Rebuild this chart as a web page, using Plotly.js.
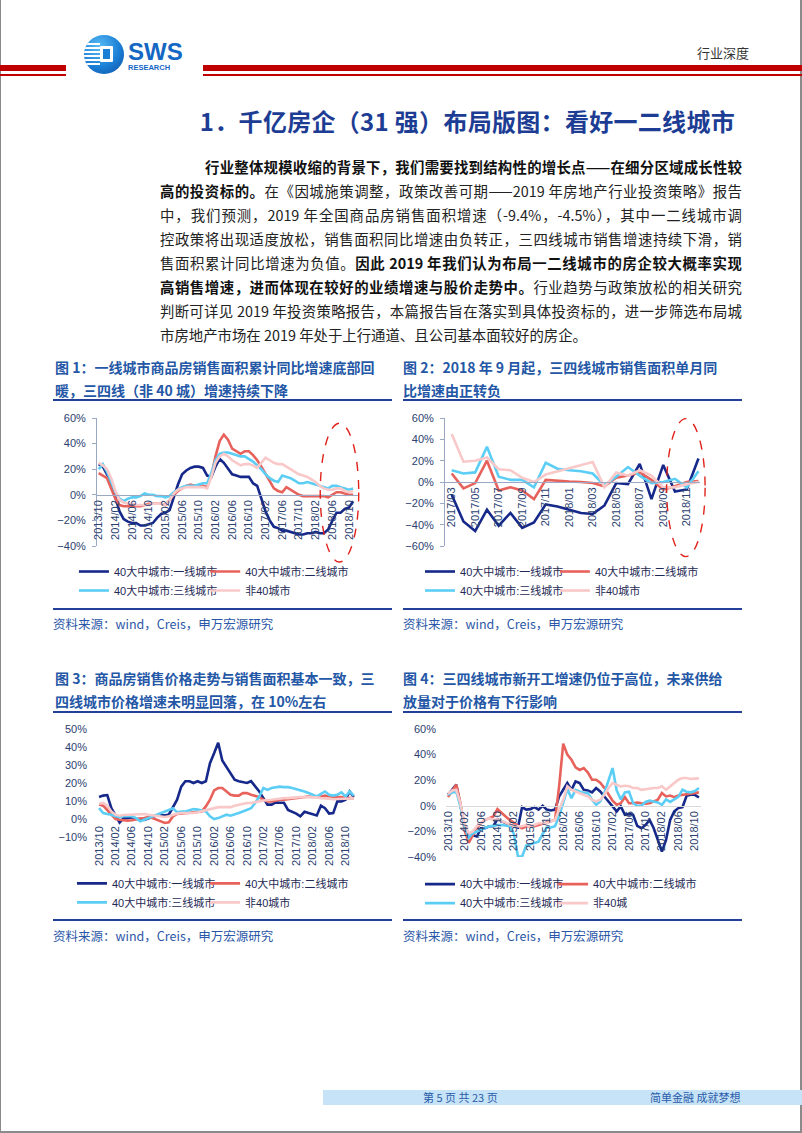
<!DOCTYPE html>
<html>
<head>
<meta charset="utf-8">
<script src="https://cdn.plot.ly/plotly-3.0.1.min.js"></script>
<style>
  html,body{margin:0;padding:0;background:#fff;}
  #page{position:relative;width:802px;height:1133px;overflow:hidden;background:#fff;font-family:"Noto Sans CJK SC","Noto Sans",sans-serif;}
  .abs{position:absolute;white-space:nowrap;}
  .para{position:absolute;left:160px;width:582px;font-size:14.4px;line-height:24px;height:24px;color:#222;text-align:justify;text-align-last:justify;white-space:nowrap;}
  .para b{color:#111;font-weight:700;}
  .ctitle{position:absolute;font-size:14px;font-weight:700;color:#2457A6;line-height:22px;white-space:nowrap;}
  .uline{position:absolute;height:2px;background:#23409A;}
  .src{position:absolute;font-size:12.5px;color:#2B57A8;white-space:nowrap;line-height:16px;}
  .chart{position:absolute;}
</style>
</head>
<body>
<div id="page">
  <!-- page border -->
  <div class="abs" style="left:0;top:0;width:1px;height:1133px;background:#8a8a8a;"></div>
  <div class="abs" style="left:800px;top:0;width:2px;height:1133px;background:#8a8a8a;"></div>
  <div class="abs" style="left:0;top:1131px;width:802px;height:2px;background:#8a8a8a;"></div>

  <!-- header red rules -->
  <div class="abs" style="left:0;top:65px;width:66px;height:6px;background:#C00000;"></div>
  <div class="abs" style="left:0;top:74px;width:66px;height:1.5px;background:#C00000;"></div>
  <div class="abs" style="left:203px;top:65px;width:599px;height:6px;background:#C00000;"></div>
  <div class="abs" style="left:203px;top:74px;width:599px;height:1.5px;background:#C00000;"></div>

  <!-- logo -->
  <div class="abs" style="left:84px;top:35px;width:40px;height:39px;border-radius:50%;overflow:hidden;background:radial-gradient(circle at 38% 30%,#5BBDF5 0%,#1B7FD6 55%,#0C4E9E 100%);">
    <div class="abs" style="left:0;top:8px;width:16px;height:24px;background:repeating-linear-gradient(to bottom,#ffffff 0px,#ffffff 2px,rgba(255,255,255,0) 2px,rgba(255,255,255,0) 4px);"></div>
    <div class="abs" style="left:16px;top:11px;width:13px;height:16px;background:#fff;border-radius:1px;"></div>
    <div class="abs" style="left:19px;top:14px;width:7px;height:10px;background:#1B7FD6;"></div>
  </div>
  <div class="abs" style="left:128px;top:42px;font-family:'Liberation Sans',Arial,sans-serif;font-weight:700;font-size:24px;line-height:20px;color:#1467C2;">SWS</div>
  <div class="abs" style="left:128px;top:64px;font-family:'Liberation Sans',Arial,sans-serif;font-weight:700;font-size:7.5px;line-height:8px;color:#1467C2;">RESEARCH</div>

  <div class="abs" style="left:697px;top:44px;font-size:13px;line-height:18px;color:#333;">行业深度</div>

  <!-- main title -->
  <div class="abs" style="right:67px;top:105px;font-size:24px;letter-spacing:0.3px;line-height:32px;font-weight:700;color:#1D3D94;">1．千亿房企（31 强）布局版图：看好一二线城市</div>

  <!-- paragraph -->
  <div class="para" style="top:155px;left:205px;width:537px;"><b>行业整体规模收缩的背景下，我们需要找到结构性的增长点——在细分区域成长性较</b></div>
  <div class="para" style="top:179px;"><b>高的投资标的。</b>在《因城施策调整，政策改善可期——2019 年房地产行业投资策略》报告</div>
  <div class="para" style="top:203px;">中，我们预测，2019 年全国商品房销售面积增速（-9.4%，-4.5%），其中一二线城市调</div>
  <div class="para" style="top:227px;">控政策将出现适度放松，销售面积同比增速由负转正，三四线城市销售增速持续下滑，销</div>
  <div class="para" style="top:251px;">售面积累计同比增速为负值。<b>因此 2019 年我们认为布局一二线城市的房企较大概率实现</b></div>
  <div class="para" style="top:275px;"><b>高销售增速，进而体现在较好的业绩增速与股价走势中。</b>行业趋势与政策放松的相关研究</div>
  <div class="para" style="top:299px;">判断可详见 2019 年投资策略报告，本篇报告旨在落实到具体投资标的，进一步筛选布局城</div>
  <div class="para" style="top:323px;text-align:left;text-align-last:left;">市房地产市场在 2019 年处于上行通道、且公司基本面较好的房企。</div>

  <!-- chart titles row 1 -->
  <div class="ctitle" style="left:55px;top:356px;">图 1：一线城市商品房销售面积累计同比增速底部回</div>
  <div class="ctitle" style="left:55px;top:379px;">暖，三四线（非 40 城）增速持续下降</div>
  <div class="uline" style="left:53px;top:399px;width:339px;"></div>
  <div class="ctitle" style="left:403px;top:356px;">图 2：2018 年 9 月起，三四线城市销售面积单月同</div>
  <div class="ctitle" style="left:403px;top:379px;">比增速由正转负</div>
  <div class="uline" style="left:403px;top:399px;width:339px;"></div>

  <div id="c1" class="chart" style="left:40px;top:405px;"></div>
  <div id="c2" class="chart" style="left:390px;top:405px;"></div>

  <div class="uline" style="left:53px;top:608px;width:339px;"></div>
  <div class="uline" style="left:403px;top:608px;width:339px;"></div>
  <div class="src" style="left:53px;top:616px;">资料来源：wind，Creis，申万宏源研究</div>
  <div class="src" style="left:403px;top:616px;">资料来源：wind，Creis，申万宏源研究</div>

  <!-- chart titles row 2 -->
  <div class="ctitle" style="left:55px;top:667px;">图 3：商品房销售价格走势与销售面积基本一致，三</div>
  <div class="ctitle" style="left:55px;top:690px;">四线城市价格增速未明显回落，在 10%左右</div>
  <div class="uline" style="left:53px;top:711px;width:339px;"></div>
  <div class="ctitle" style="left:403px;top:667px;">图 4：三四线城市新开工增速仍位于高位，未来供给</div>
  <div class="ctitle" style="left:403px;top:690px;">放量对于价格有下行影响</div>
  <div class="uline" style="left:403px;top:711px;width:339px;"></div>

  <div id="c3" class="chart" style="left:40px;top:715px;"></div>
  <div id="c4" class="chart" style="left:390px;top:715px;"></div>

  <div class="uline" style="left:53px;top:919px;width:339px;"></div>
  <div class="uline" style="left:403px;top:919px;width:339px;"></div>
  <div class="src" style="left:53px;top:928px;">资料来源：wind，Creis，申万宏源研究</div>
  <div class="src" style="left:403px;top:928px;">资料来源：wind，Creis，申万宏源研究</div>

  <!-- footer -->
  <div class="abs" style="left:323px;top:1090px;width:479px;height:15px;background:#C6E3F7;"></div>
  <div class="abs" style="left:423px;top:1090px;font-size:11px;line-height:15px;color:#2A5BAA;">第 5 页 共 23 页</div>
  <div class="abs" style="left:650px;top:1090px;font-size:11px;line-height:15px;color:#2A5BAA;">简单金融 成就梦想</div>
</div>

<script>
// ---------- categories ----------
var months = ['2013/10','2013/11','2013/12',
 '2014/01','2014/02','2014/03','2014/04','2014/05','2014/06','2014/07','2014/08','2014/09','2014/10','2014/11','2014/12',
 '2015/01','2015/02','2015/03','2015/04','2015/05','2015/06','2015/07','2015/08','2015/09','2015/10','2015/11','2015/12',
 '2016/01','2016/02','2016/03','2016/04','2016/05','2016/06','2016/07','2016/08','2016/09','2016/10','2016/11','2016/12',
 '2017/01','2017/02','2017/03','2017/04','2017/05','2017/06','2017/07','2017/08','2017/09','2017/10','2017/11','2017/12',
 '2018/01','2018/02','2018/03','2018/04','2018/05','2018/06','2018/07','2018/08','2018/09','2018/10','2018/11','2018/12'];
var months2 = ['2017/03','2017/04','2017/05','2017/06','2017/07','2017/08','2017/09','2017/10','2017/11','2017/12',
 '2018/01','2018/02','2018/03','2018/04','2018/05','2018/06','2018/07','2018/08','2018/09','2018/10','2018/11','2018/12'];

var seriesNames = ['40大中城市:一线城市','40大中城市:二线城市','40大中城市:三线城市','非40城市'];
var seriesNames4 = ['40大中城市:一线城市','40大中城市:二线城市','40大中城市:三线城市','非40城'];

// ---------- Figure 1: cumulative YoY sales area (%) ----------
var c1_tier1 = [24,22,16,9,-2,-13,-19,-21,-22,-22, -24,-24,-23,-22,-18,-15,-14,-12,-2,8, 16,19,21,22,22,21,15,14,22,28, 25,20,16,15,14,14,14,9,7,-3, -13,-20,-25,-26,-28,-28,-29,-30,-31,-31, -30,-30,-29,-30,-30,-27,-20,-14,-14,-11, -10,-5];
var c1_tier2 = [17,15,13,5,-3,-8,-9,-9,-9,-9, -9,-8,-7,-7,-7,-7,-8,-4,0,3, 5,7,8,7,7,7,6,15,30,42, 47,43,36,34,32,34,34,31,27,22, 16,10,5,3,2,6,4,2,0,-1, -1,-1,-1,-1,-1,-2,0,2,2,1, 0,0];
var c1_tier3 = [20,24,18,10,2,-3,-5,-3,-2,-2, -1,1,0,0,-1,-1,-2,-1,2,4, 6,7,7,7,8,9,9,17,27,32, 33,33,32,31,30,30,28,26,23,20, 16,13,11,10,15,14,13,11,9,9, 10,9,8,7,6,5,7,7,6,5, 4,5];
var c1_non40 = [25,23,20,13,3,-4,-6,-7,-7,-8, -8,-8,-8,-7,-7,-7,-8,-4,1,4, 5,6,6,6,6,6,5,14,25,30, 32,30,27,25,23,24,24,23,21,25, 29,27,25,24,24,22,20,18,16,15, 14,12,10,7,5,4,4,5,5,3, 2,3];

// ---------- Figure 2: monthly YoY sales area (%) ----------
var c2_tier1 = [-12,-37,-46,-26,-41,-29,-43,-38,-21,-23,-26,-29,-30,-22,-1,-2,17,-16,16,-9,-7,22];
var c2_tier2 = [8,-6,-1,20,-8,-5,-8,-16,2,1,0.5,0,-1,-4,4,6,9,2,-7,-4,0,1];
var c2_tier3 = [11,8,9,33,5,2,2,-5,18,12.5,11,10,8,-3,5,14,6,-1,0,3,-5,10];
var c2_non40 = [45,19,20,23,12,11,4,0,7,10,12.5,15.6,18.7,-5,9,6,11,6,-5,-5,-2,0];

// ---------- Figure 3: sales price YoY (%) ----------
var c3_tier1 = [12.2,13,13.3,6,2,-2,0.5,0.5,1,0, 0,-0.5,0.3,1,2,2,2,2.5,7,10.7, 18,21,21,20,21,20,21,31,36.5,42.4, 32.5,29,25.5,21.8,21,20.3,20,21,18,15.3, 11.6,8,8,9.2,9,9,5,4,3,1.5, 4,3.3,2.8,2,7.4,6,3,3.3,9.8,9.8, 10.7,15.3,12.2];
var c3_tier2 = [8,7.4,5,2.4,0,-0.4,-0.7,-1,-0.7,0, 0.3,0.5,1,0.5,-0.4,-1.3,-2.2,-1.8,1.5,2.8, 3,3.3,3.7,3.7,4.2,4.2,7,10.7,15.9,17.2, 17.2,15.3,13.5,13,13,14.4,14.4,13.5,13,12.2, 10.7,9.8,9.8,10.3,10.7,10.7,11,11,11.4,11.6, 12,12.5,12.2,12.2,12.5,13,12.2,12.2,12.2,12.2, 11.6,11.6,11.6];
var c3_tier3 = [6,3.3,2.8,2.4,1.5,1,1.5,1.5,1.5,0.5, -1.3,-0.4,0.5,1.5,2.4,3.3,4.2,5.2,6,3.7, 4.2,4.2,4.8,5.5,5.2,4.8,4.2,1.5,0,0.5, 1.5,2.4,1.8,2.4,3.3,4.2,5.2,6,8.9,12.5, 17.2,16.2,17.2,17.7,18,17.7,17.7,17.2,16.6,16.2, 15.3,14.4,13.5,12.5,14,15.3,13.5,13,13.5,14.8, 12.5,15.3,13];
var c3_non40 = [8.5,8.9,7.4,4.2,2.4,1.8,2.2,2.4,2.6,2.8, 3,2.8,2.4,2,1.8,1.5,1.1,1.5,2.4,3, 3.3,3.3,3,3.3,3.7,4.2,4.8,5.5,6,6.6, 6.6,6.6,6.6,7.4,8,8.5,8.9,8.9,9.2,9.8, 10.3,10.7,10.7,11,11.4,11.6,11.6,11.6,12,12.2, 12.2,12,12.2,12,11.6,11.6,11.3,11,11,11, 11.2,11.4,11.6];

// ---------- Figure 4: new starts YoY (%) ----------
var c4_tier1 = [8.6,12.5,16.5,0.8,-16,-24,-23,-24,-17.5,-17.5, -16,-16,-10.5,-12,-13.6,-15,-16,-17,-1,-3, -2.6,-1,-3,0,-3,-3.7,-3,7.3,12.5,17.8, 12.5,19,17.8,12.5,12,10.5,13.9,11.2,7.3,3.4, 0,-4.4,-0.5,-7,-6.3,-7,-15.7,-17.5,-15,-11, -17.5,-26.7,-35.8,-26.7,-11,-4.4,-1.8,-1,7.8,8.6, 8.6,6.5];
var c4_tier2 = [6.8,11.2,16.5,2,-18.8,-29,-23,-17.5,-13.6,-11, -9.7,-8.4,-2.6,-5.8,-8.4,-11,-13.6,-15.7,-17.5,-16, -15.7,-16,-15,-14,-13.6,-12.3,-11,15,48.6,40, 36,30,28,29.5,26,20.4,20.4,18,14,9, 4,0.8,2,6.8,2,2,2.6,2,1.6,2, 3.4,4.7,10,7.3,8,6.8,8,8.6,9,9.4, 10,10.5];
var c4_tier3 = [8.6,10.5,11.2,-0.5,-16,-25,-21.4,-20,-18.8,-17.5, -16,-15.7,-15,-15,-15.7,-16,-22,-39.7,-39.7,-31, -30,-29,-28,-22,-17,-17,-16,-8,2,13, 6,12.5,11.2,10,10,4.7,0.8,3.4,10,20, 29.5,12,5,10.5,11,2,0,0,3,4, 3.5,2.6,0.8,5,3,4.7,7,12.5,11,10.5, 11.5,13.9];
var c4_non40 = [9.4,12,12.5,2,-13.6,-21.4,-20,-16,-13.6,-11, -9.7,-11,-10.5,-11.8,-13,-14,-15.7,-16,-16,-15, -16,-15,-13.6,-13.6,-13.6,-12.3,-11,-3,4.7,15.2, 12.5,11.2,10,8.6,7.3,4.7,3.4,4.7,8.6,13.9, 17.8,16.5,15.2,15.7,15.2,13.9,13.9,12.5,13,13.9, 13.9,13.9,15.2,12.5,15.2,17.8,20.4,21.7,21.7,21, 21,21.4];

// ---------- styling ----------
var colors = ['#16298A','#E8625C','#5CCEF5','#F9C8C8'];
var legendOf = ['legend','legend2','legend','legend2'];
var FONT = "'Liberation Sans', Arial, 'Noto Sans CJK SC', sans-serif";
var tickColor = '#2B416F';

function everyNth(arr, n) { return arr.filter(function(_, i){ return i % n === 0; }); }

function buildTraces(cats, data, names) {
  return data.map(function(vals, k) {
    return {
      type: 'scatter', mode: 'lines', name: names[k], legend: legendOf[k],
      x: cats.slice(0, vals.length), y: vals,
      line: {color: colors[k], width: 2.6},
      hoverinfo: 'skip'
    };
  });
}

function legendBox(x, y) {
  return {orientation: 'v', x: x, y: y, xanchor: 'left', yanchor: 'top', traceorder: 'normal',
          font: {family: FONT, size: 11, color: '#1E2A55'}, bgcolor: 'rgba(0,0,0,0)', borderwidth: 0};
}

function draw(id, cats, data, names, o) {
  var layout = {
    width: o.w, height: o.h,
    margin: {l: o.l, r: o.r, t: o.t, b: o.b, autoexpand: false},
    paper_bgcolor: 'rgba(0,0,0,0)', plot_bgcolor: 'rgba(0,0,0,0)',
    font: {family: FONT, color: tickColor, size: 11},
    showlegend: true,
    legend: legendBox(o.lx1, o.ly),
    legend2: legendBox(o.lx2, o.ly),
    xaxis: {type: 'category', range: o.xr, anchor: 'free', position: o.pos,
            tickmode: 'array', tickvals: everyNth(cats, o.nth), ticktext: everyNth(cats, o.nth),
            tickangle: -90, showgrid: false, zeroline: false,
            showline: o.xline, linecolor: o.xlinecolor, linewidth: 1,
            ticks: '', ticklabelstandoff: o.xstand || 0,
            tickfont: {family: FONT, size: 11, color: tickColor}},
    yaxis: {range: o.yr, dtick: o.dy, tick0: 0, ticksuffix: '%', showgrid: false, zeroline: false,
            showline: o.yline, linecolor: '#9AA8C4', linewidth: 1,
            ticks: o.yline ? 'outside' : '', ticklen: 4, tickcolor: '#9AA8C4',
            ticklabelstandoff: o.ystand,
            tickfont: {family: FONT, size: 11, color: tickColor}},
    shapes: o.shapes || [],
    hovermode: false
  };
  Plotly.newPlot(id, buildTraces(cats, data, names), layout, {staticPlot: true, displayModeBar: false});
}

var ellipse = function(x0, x1, y0, y1) {
  return {type: 'circle', xref: 'paper', yref: 'paper', x0: x0, x1: x1, y0: y0, y1: y1,
          line: {color: '#E0221B', width: 1.4, dash: 'dash'}};
};

draw('c1', months, [c1_tier1, c1_tier2, c1_tier3, c1_non40], seriesNames, {
  w: 340, h: 210, l: 57, r: 21, t: 13, b: 69,
  xr: [-0.4, 62.4], pos: 0.4, nth: 4, yr: [-40, 60], dy: 20,
  xline: true, xlinecolor: '#9AA8C4', yline: true, ystand: 4,
  lx1: -0.088, lx2: 0.413, ly: -0.086,
  shapes: [ellipse(0.852, 0.999, -0.125, 0.959)]
});
draw('c2', months2, [c2_tier1, c2_tier2, c2_tier3, c2_non40], seriesNames, {
  w: 340, h: 210, l: 55, r: 30, t: 13, b: 69,
  xr: [-0.57, 21.13], pos: 0.5, nth: 2, yr: [-60, 60], dy: 20,
  xline: true, xlinecolor: '#9AA8C4', yline: true, ystand: 4,
  lx1: -0.098, lx2: 0.431, ly: -0.086,
  shapes: [ellipse(0.869, 1.02, -0.083, 0.995)]
});
draw('c3', months, [c3_tier1, c3_tier2, c3_tier3, c3_non40], seriesNames, {
  w: 340, h: 200, l: 57, r: 25, t: 14, b: 78,
  xr: [-0.5, 62.3], pos: 10/60, nth: 4, yr: [-10, 50], dy: 10,
  xline: false, xlinecolor: '#D9D9D9', yline: false, ystand: 9, xstand: 4,
  lx1: -0.097, lx2: 0.419, ly: -0.295
});
draw('c4', months, [c4_tier1, c4_tier2, c4_tier3, c4_non40], seriesNames4, {
  w: 340, h: 200, l: 56, r: 29, t: 14, b: 58,
  xr: [-0.5, 61.5], pos: 0.4, nth: 4, yr: [-40, 60], dy: 20,
  xline: true, xlinecolor: '#D9D9D9', yline: false, ystand: 9,
  lx1: -0.102, lx2: 0.42, ly: -0.099
});
</script>
</body>
</html>
